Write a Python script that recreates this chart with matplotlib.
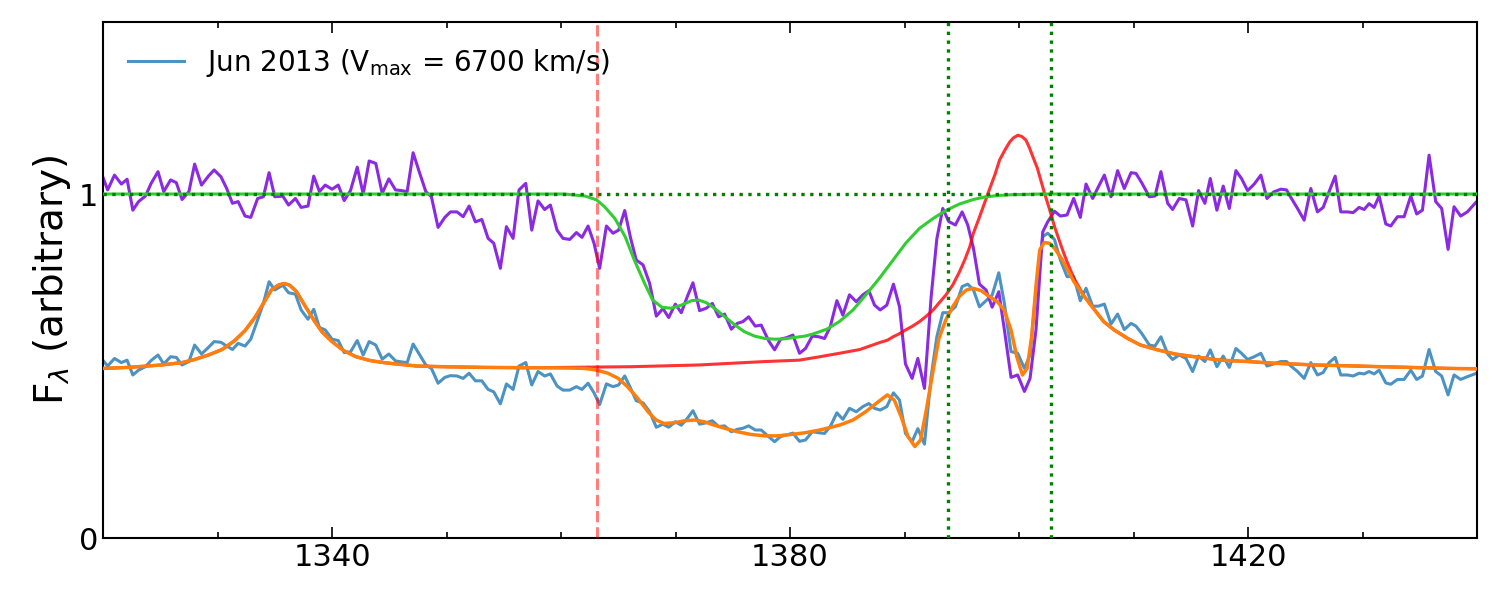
import matplotlib
matplotlib.use("Agg")
import matplotlib.pyplot as plt
from matplotlib.ticker import MultipleLocator

# observed spectrum (blue) and spectrum normalised by emission model (purple)
wave = [
    1320.0, 1320.4, 1321.0, 1321.6, 1322.1, 1322.6, 1323.1, 1323.7, 1324.2, 1324.8,
    1325.3, 1325.9, 1326.4, 1326.9, 1327.5, 1328.0, 1328.6, 1329.2, 1329.7, 1330.3,
    1330.8, 1331.3, 1331.8, 1332.4, 1332.9, 1333.5, 1334.0, 1334.5, 1335.0, 1335.7,
    1336.2, 1336.8, 1337.3, 1337.9, 1338.4, 1338.9, 1339.4, 1340.0,
    1340.54, 1341.06, 1341.61, 1342.20, 1342.72, 1343.24, 1343.82, 1344.38, 1344.96, 1345.54,
    1346.06, 1346.56, 1347.08, 1347.66, 1348.19, 1348.68, 1349.26, 1349.85, 1350.34, 1350.92,
    1351.45, 1351.97, 1352.52, 1353.08, 1353.63, 1354.12, 1354.70, 1355.23, 1355.81, 1356.33,
    1356.92, 1357.44, 1357.99, 1358.57, 1359.07, 1359.65, 1360.17, 1360.76,
    1361.34, 1361.83, 1362.36, 1362.88, 1363.37, 1363.96, 1364.54, 1365.03, 1365.56, 1366.08,
    1366.57, 1367.16, 1367.74, 1368.32, 1368.90, 1369.40, 1369.98, 1370.50, 1371.03, 1371.52,
    1372.10, 1372.68, 1373.21, 1373.76, 1374.28, 1374.87, 1375.39, 1375.88, 1376.38, 1376.96,
    1377.48, 1378.12, 1378.65, 1379.17, 1379.75, 1380.25, 1380.83,
    1381.35, 1381.94, 1382.52, 1383.01, 1383.51, 1384.09, 1384.61, 1385.19, 1385.78, 1386.36,
    1386.88, 1387.38, 1387.87, 1388.45, 1389.03, 1389.56, 1390.08, 1390.66, 1391.16, 1391.74,
    1392.32, 1392.82, 1393.34, 1393.86, 1394.44, 1395.03, 1395.52, 1396.02, 1396.54, 1397.12,
    1397.65, 1398.23, 1398.72, 1399.30, 1399.88, 1400.47, 1400.96, 1401.48,
    1402.07, 1402.50, 1403.09, 1403.61, 1404.19, 1404.77, 1405.35, 1405.85, 1406.43, 1406.93,
    1407.45, 1408.03, 1408.61, 1409.19, 1409.78, 1410.21, 1410.71, 1411.38, 1411.87, 1412.39,
    1412.98, 1413.41, 1413.99, 1414.58, 1415.16, 1415.68, 1416.23, 1416.70, 1417.28, 1417.83,
    1418.36, 1418.94, 1419.43, 1419.96, 1420.54, 1421.12, 1421.65, 1422.23,
    1422.86, 1423.36, 1423.74, 1424.32, 1424.90, 1425.48, 1426.06, 1426.56, 1427.08, 1427.61,
    1428.10, 1428.68, 1429.18, 1429.70, 1430.14, 1430.57, 1431.01, 1431.45, 1432.03, 1432.46,
    1433.05, 1433.63, 1434.21, 1434.73, 1435.23, 1435.81, 1436.39, 1436.91, 1437.47, 1437.99,
    1438.57, 1439.15, 1439.88,
]
flux_obs = [
    0.516, 0.500, 0.522, 0.510, 0.517, 0.474, 0.488, 0.498, 0.516, 0.532,
    0.506, 0.527, 0.525, 0.503, 0.513, 0.561, 0.535, 0.554, 0.571, 0.569,
    0.558, 0.548, 0.566, 0.558, 0.578, 0.634, 0.682, 0.745, 0.721, 0.735,
    0.713, 0.709, 0.663, 0.636, 0.665, 0.612, 0.605, 0.578,
    0.574, 0.539, 0.541, 0.574, 0.532, 0.571, 0.561, 0.520, 0.535, 0.515,
    0.512, 0.510, 0.564, 0.532, 0.503, 0.493, 0.450, 0.467, 0.472, 0.471,
    0.464, 0.479, 0.457, 0.457, 0.432, 0.425, 0.390, 0.448, 0.432, 0.500,
    0.510, 0.445, 0.484, 0.471, 0.477, 0.442, 0.430, 0.430,
    0.440, 0.432, 0.450, 0.422, 0.388, 0.448, 0.440, 0.445, 0.471, 0.435,
    0.399, 0.393, 0.367, 0.322, 0.331, 0.322, 0.338, 0.328, 0.348, 0.370,
    0.331, 0.335, 0.341, 0.324, 0.326, 0.309, 0.316, 0.319, 0.326, 0.314,
    0.314, 0.295, 0.280, 0.295, 0.300, 0.305, 0.281,
    0.285, 0.309, 0.306, 0.304, 0.324, 0.364, 0.345, 0.377, 0.367, 0.382,
    0.391, 0.377, 0.372, 0.382, 0.422, 0.401, 0.304, 0.280, 0.318, 0.273,
    0.469, 0.585, 0.655, 0.655, 0.672, 0.731, 0.738, 0.721, 0.672, 0.690,
    0.706, 0.771, 0.682, 0.542, 0.537, 0.493, 0.532, 0.721,
    0.876, 0.886, 0.868, 0.808, 0.760, 0.760, 0.690, 0.726, 0.674, 0.674,
    0.680, 0.622, 0.651, 0.606, 0.624, 0.616, 0.595, 0.561, 0.558, 0.585,
    0.535, 0.519, 0.532, 0.522, 0.484, 0.529, 0.513, 0.547, 0.498, 0.529,
    0.496, 0.551, 0.537, 0.519, 0.527, 0.537, 0.500, 0.506,
    0.513, 0.513, 0.500, 0.484, 0.464, 0.510, 0.474, 0.481, 0.510, 0.525,
    0.474, 0.474, 0.471, 0.479, 0.477, 0.484, 0.477, 0.488, 0.451, 0.447,
    0.461, 0.461, 0.488, 0.461, 0.471, 0.548, 0.484, 0.471, 0.416, 0.474,
    0.461, 0.469, 0.478,
]
flux_norm = [
    1.048, 1.012, 1.055, 1.029, 1.043, 0.953, 0.978, 0.994, 1.031, 1.065,
    1.007, 1.041, 1.033, 0.984, 1.007, 1.087, 1.026, 1.052, 1.070, 1.050,
    1.016, 0.973, 0.978, 0.936, 0.932, 0.987, 0.992, 1.062, 0.992, 0.994,
    0.968, 0.987, 0.961, 0.965, 1.052, 1.007, 1.026, 1.014,
    1.026, 0.981, 1.010, 1.078, 1.000, 1.096, 1.089, 1.002, 1.044, 1.012,
    1.010, 1.007, 1.120, 1.060, 1.007, 0.992, 0.903, 0.932, 0.948, 0.948,
    0.934, 0.965, 0.919, 0.926, 0.871, 0.857, 0.784, 0.905, 0.871, 1.012,
    1.031, 0.895, 0.980, 0.955, 0.968, 0.895, 0.871, 0.868,
    0.888, 0.874, 0.907, 0.857, 0.784, 0.907, 0.886, 0.895, 0.952, 0.871,
    0.808, 0.794, 0.740, 0.645, 0.667, 0.641, 0.680, 0.655, 0.702, 0.742,
    0.661, 0.668, 0.682, 0.643, 0.651, 0.607, 0.624, 0.629, 0.643, 0.616,
    0.619, 0.574, 0.547, 0.578, 0.583, 0.590, 0.537,
    0.551, 0.587, 0.585, 0.580, 0.614, 0.690, 0.648, 0.707, 0.687, 0.707,
    0.719, 0.677, 0.663, 0.677, 0.738, 0.672, 0.506, 0.464, 0.522, 0.435,
    0.700, 0.870, 0.958, 0.920, 0.910, 0.948, 0.910, 0.842, 0.738, 0.721,
    0.671, 0.716, 0.605, 0.467, 0.474, 0.426, 0.464, 0.605,
    0.890, 0.919, 0.950, 0.936, 0.939, 0.987, 0.932, 1.029, 0.987, 1.021,
    1.055, 0.992, 1.068, 1.016, 1.062, 1.060, 1.033, 0.992, 0.994, 1.065,
    0.973, 0.955, 0.987, 0.983, 0.907, 1.010, 0.973, 1.045, 0.953, 1.023,
    0.958, 1.068, 1.045, 1.010, 1.029, 1.055, 0.987, 1.006,
    1.014, 1.012, 0.990, 0.958, 0.924, 1.016, 0.948, 0.961, 1.007, 1.052,
    0.948, 0.948, 0.946, 0.961, 0.955, 0.972, 0.961, 0.994, 0.913, 0.907,
    0.934, 0.934, 0.994, 0.942, 0.953, 1.113, 0.978, 0.958, 0.839, 0.963,
    0.936, 0.948, 0.975,
]

# full fit (orange)
fit_wave = [
    1320.0, 1322.2, 1325.1, 1326.9, 1328.0, 1329.2, 1330.4, 1331.5, 1332.4, 1333.3,
    1334.0, 1334.7, 1335.3, 1335.8, 1336.3, 1336.9, 1337.6, 1338.4, 1339.1, 1340.0,
    1341.0, 1342.1, 1343.3, 1344.5, 1345.6, 1347.4, 1349.7, 1353.2, 1357.3, 1360.8,
    1362.1, 1363.1, 1364.1, 1365.0, 1365.8, 1366.7, 1367.6, 1368.3, 1369.0, 1369.9,
    1370.8, 1371.7, 1372.5, 1373.4, 1374.3, 1375.4, 1376.6, 1377.8, 1378.9, 1380.1,
    1381.3, 1382.6, 1384.3, 1385.5, 1386.6, 1387.7, 1388.5, 1389.1, 1389.7, 1390.3,
    1390.9, 1391.4, 1391.9, 1392.5, 1393.0, 1393.6, 1394.2, 1394.8, 1395.4, 1396.0,
    1396.7, 1397.4, 1398.1, 1398.7, 1399.3, 1399.8, 1400.3, 1400.7, 1401.1, 1401.5,
    1401.8, 1402.2, 1402.65, 1403.1, 1403.7, 1404.25, 1404.8, 1405.7, 1406.6, 1407.4,
    1408.3, 1409.5, 1410.6, 1412.1, 1413.6, 1415.3, 1417.6, 1420.0, 1422.3, 1425.9,
    1431.7, 1437.6, 1440.0,
]
fit_flux = [
    0.493, 0.496, 0.503, 0.510, 0.519, 0.532, 0.548, 0.574, 0.603, 0.643,
    0.682, 0.721, 0.735, 0.740, 0.735, 0.716, 0.677, 0.634, 0.600, 0.571,
    0.545, 0.527, 0.516, 0.510, 0.506, 0.500, 0.498, 0.496, 0.495, 0.494,
    0.493, 0.488, 0.479, 0.464, 0.440, 0.406, 0.367, 0.343, 0.333, 0.335,
    0.341, 0.343, 0.338, 0.328, 0.319, 0.309, 0.301, 0.297, 0.297, 0.301,
    0.306, 0.314, 0.328, 0.343, 0.367, 0.396, 0.416, 0.401, 0.353, 0.295,
    0.266, 0.285, 0.372, 0.488, 0.580, 0.634, 0.672, 0.703, 0.721, 0.726,
    0.719, 0.702, 0.687, 0.663, 0.605, 0.527, 0.474, 0.493, 0.585, 0.740,
    0.837, 0.859, 0.857, 0.842, 0.813, 0.779, 0.745, 0.702, 0.663, 0.629,
    0.605, 0.580, 0.561, 0.547, 0.535, 0.527, 0.517, 0.513, 0.508, 0.503,
    0.498, 0.493, 0.492,
]

# emission model (red)
emis_wave = [
    1320.0, 1322.2, 1325.1, 1326.9, 1328.0, 1329.2, 1330.4, 1331.5, 1332.4, 1333.3,
    1334.0, 1334.7, 1335.3, 1335.8, 1336.3, 1336.9, 1337.6, 1338.4, 1339.1, 1340.0,
    1341.0, 1342.1, 1343.3, 1344.5, 1345.6, 1347.4, 1349.7, 1353.2, 1357.3, 1360.3,
    1366.1, 1372.0, 1377.8, 1380.8, 1382.6, 1384.3, 1386.1, 1387.8, 1388.5, 1389.0,
    1389.5, 1390.1, 1390.7, 1391.3, 1391.9, 1392.5, 1393.0, 1393.6, 1394.2, 1394.8,
    1395.3, 1395.7, 1396.0, 1396.5, 1397.0, 1397.4, 1397.9, 1398.3, 1398.8, 1399.2,
    1399.5, 1399.9, 1400.25, 1400.6, 1400.9, 1401.2, 1401.6, 1401.9, 1402.2, 1402.5,
    1402.8, 1403.1, 1403.7, 1404.0, 1404.25, 1404.8, 1405.7, 1406.6, 1407.4, 1408.3,
    1409.5, 1410.6, 1412.1, 1413.6, 1415.3, 1417.6, 1420.0, 1422.3, 1425.9, 1431.7,
    1437.6, 1440.0,
]
emis_flux = [
    0.493, 0.496, 0.503, 0.510, 0.519, 0.532, 0.548, 0.574, 0.603, 0.643,
    0.682, 0.721, 0.735, 0.740, 0.735, 0.716, 0.677, 0.634, 0.600, 0.571,
    0.545, 0.527, 0.516, 0.510, 0.506, 0.500, 0.498, 0.496, 0.495, 0.496,
    0.498, 0.503, 0.513, 0.517, 0.527, 0.537, 0.548, 0.568, 0.575, 0.585,
    0.593, 0.605, 0.616, 0.629, 0.645, 0.663, 0.683, 0.706, 0.735, 0.774,
    0.812, 0.847, 0.885, 0.929, 0.975, 1.012, 1.057, 1.099, 1.130, 1.152,
    1.163, 1.171, 1.167, 1.157, 1.135, 1.109, 1.075, 1.040, 1.005, 0.973,
    0.940, 0.905, 0.847, 0.820, 0.798, 0.755, 0.702, 0.663, 0.629, 0.605,
    0.580, 0.561, 0.547, 0.535, 0.527, 0.517, 0.513, 0.508, 0.503, 0.498,
    0.493, 0.492,
]

# absorption model (green)
abs_wave = [
    1320.0, 1360.3, 1362.1, 1363.1, 1363.8, 1364.7, 1365.6, 1366.4, 1367.3, 1368.0,
    1368.8, 1369.6, 1370.5, 1371.4, 1372.0, 1372.7, 1373.4, 1374.3, 1375.2, 1376.0,
    1376.9, 1377.8, 1378.7, 1379.5, 1380.4, 1381.3, 1382.0, 1383.2, 1384.3, 1385.5,
    1386.6, 1387.8, 1389.0, 1390.1, 1391.3, 1392.5, 1393.6, 1394.8, 1396.0, 1397.1,
    1398.3, 1399.4, 1401.8, 1440.0,
]
abs_flux = [
    1.000, 1.000, 0.994, 0.983, 0.963, 0.929, 0.876, 0.808, 0.740, 0.692,
    0.671, 0.668, 0.677, 0.690, 0.692, 0.684, 0.668, 0.643, 0.619, 0.600,
    0.587, 0.580, 0.578, 0.579, 0.583, 0.587, 0.593, 0.607, 0.629, 0.663,
    0.706, 0.755, 0.808, 0.857, 0.900, 0.929, 0.952, 0.971, 0.984, 0.992,
    0.996, 0.998, 1.000, 1.000,
]

v_max_wave = 1363.1
siiv_lines = [1393.76, 1402.77]

fig = plt.figure(figsize=(15, 6), dpi=100)
ax = fig.add_axes([0.0687, 0.1033, 0.916, 0.86])

ax.plot(wave, flux_obs, color='#1f77b4', alpha=0.8, lw=2.2,
        label='Jun 2013 (V$_{\\rm max}$ = 6700 km/s)', zorder=2)
ax.plot(wave, flux_norm, color='blueviolet', lw=2.2, zorder=2)
ax.plot(emis_wave, emis_flux, color='red', alpha=0.8, lw=2.2, zorder=3)
ax.plot(abs_wave, abs_flux, color='limegreen', lw=2.2, zorder=3)
ax.plot(fit_wave, fit_flux, color='#ff7f0e', lw=2.5, zorder=4)

ax.axhline(1, color='g', ls=':', lw=2.4, zorder=5)
for w in siiv_lines:
    ax.axvline(w, color='g', ls=':', lw=2.4, zorder=5)
ax.axvline(v_max_wave, color='red', alpha=0.5, ls='--', lw=2.2, zorder=5)

ax.set_xlim(1320, 1440)
ax.set_ylim(0, 1.5)
ax.set_xticks([1340, 1380, 1420])
ax.xaxis.set_minor_locator(MultipleLocator(10))
ax.set_yticks([0, 1])
ax.tick_params(which='both', direction='in', top=True, right=True, labelsize=22, width=1.2)
ax.tick_params(which='major', length=8)
ax.tick_params(which='minor', length=4.5)
for s in ax.spines.values():
    s.set_linewidth(1.5)

ax.set_ylabel('F$_\\lambda$ (arbitrary)', fontsize=28)
ax.legend(loc='upper left', frameon=False, fontsize=20)

fig.savefig('out.png', dpi=100)
